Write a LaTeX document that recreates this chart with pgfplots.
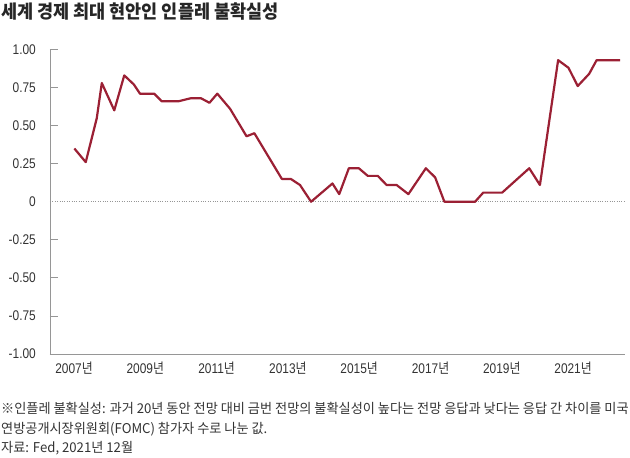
\documentclass[border=0pt]{standalone}
\usepackage{fontspec}
\usepackage{pgfplots}
\pgfplotsset{compat=1.18}
\newfontfamily\cond[FakeStretch=0.85]{Liberation Sans}
\newfontfamily\krc[FakeStretch=0.85]{Noto Sans CJK KR}
\newfontfamily\krn[FakeStretch=0.975]{Noto Sans CJK KR}
\newfontfamily\krt[FakeStretch=0.945]{Noto Sans CJK KR}
\definecolor{linered}{RGB}{155,32,52}
\definecolor{axisgray}{RGB}{150,150,150}
\definecolor{txt}{RGB}{51,51,51}
\newcommand{\yr}[1]{{\cond #1}{\krc 년}}
\begin{document}
\begin{tikzpicture}
\path[use as bounding box] (0bp,0bp) rectangle (630bp,458bp);
\node[anchor=base west, inner sep=0pt, text=black!85] at (1bp,439.5bp) {\fontsize{18.5bp}{20bp}\krt\bfseries 세계 경제 최대 현안인 인플레 불확실성};
\node[anchor=base west, inner sep=0pt, text=txt] at (1bp,44bp) {\fontsize{13.5bp}{15bp}\krn ※인플레 불확실성: 과거 20년 동안 전망 대비 금번 전망의 불확실성이 높다는 전망 응답과 낮다는 응답 간 차이를 미국};
\node[anchor=base west, inner sep=0pt, text=txt] at (1bp,24.5bp) {\fontsize{13.5bp}{15bp}\krn 연방공개시장위원회(FOMC) 참가자 수로 나눈 값.};
\node[anchor=base west, inner sep=0pt, text=txt] at (1bp,5.5bp) {\fontsize{13.5bp}{15bp}\krn 자료: Fed, 2021년 12월};
\begin{axis}[
  at={(50bp,104bp)}, anchor=south west, scale only axis,
  width=575bp, height=304.5bp,
  xmin=2006.327, xmax=2022.456, ymin=-1, ymax=1,
  axis x line*=bottom, axis y line*=left,
  axis line style={axisgray, line width=0.8bp, -},
  xtick={2007,2009,2011,2013,2015,2017,2019,2021},
  xticklabels={\yr{2007},\yr{2009},\yr{2011},\yr{2013},\yr{2015},\yr{2017},\yr{2019},\yr{2021}},
  ytick={-1,-0.75,-0.5,-0.25,0.25,0.5,0.75,1},
  yticklabels={-1.00,-0.75,-0.50,-0.25,0.25,0.50,0.75,1.00},
  extra y ticks={0}, extra y tick labels={0},
  extra y tick style={grid=major, major grid style={axisgray, dotted, line width=0.7bp}, major tick length=0pt},
  tick align=inside, major tick length=8bp,
  ytick style={axisgray, line width=0.8bp}, xtick style={draw=none},
  yticklabel style={font=\fontsize{14bp}{16bp}\selectfont\cond, text=txt, anchor=east, inner sep=0pt, xshift=-14bp},
  xticklabel style={font=\fontsize{14bp}{16bp}\selectfont\cond, text=txt, anchor=north, inner sep=0pt, yshift=-8bp},
  clip=false,
]
\addplot[linered, line width=2.2bp, line join=round] table {
x y
2007.01 0.35
2007.33 0.26
2007.64 0.55
2007.78 0.78
2008.13 0.60
2008.41 0.83
2008.68 0.77
2008.85 0.71
2009.25 0.71
2009.46 0.66
2009.93 0.66
2010.28 0.68
2010.56 0.68
2010.80 0.65
2011.02 0.71
2011.38 0.61
2011.84 0.43
2012.06 0.45
2012.83 0.15
2013.08 0.15
2013.34 0.11
2013.65 0.00
2014.25 0.12
2014.44 0.05
2014.71 0.22
2014.99 0.22
2015.24 0.17
2015.52 0.17
2015.77 0.11
2016.05 0.11
2016.38 0.05
2016.87 0.22
2017.13 0.16
2017.39 0.00
2018.25 0.00
2018.48 0.06
2019.01 0.06
2019.77 0.22
2020.07 0.11
2020.58 0.93
2020.87 0.88
2021.13 0.76
2021.45 0.84
2021.66 0.93
2022.32 0.93
};
\end{axis}
\end{tikzpicture}
\end{document}
